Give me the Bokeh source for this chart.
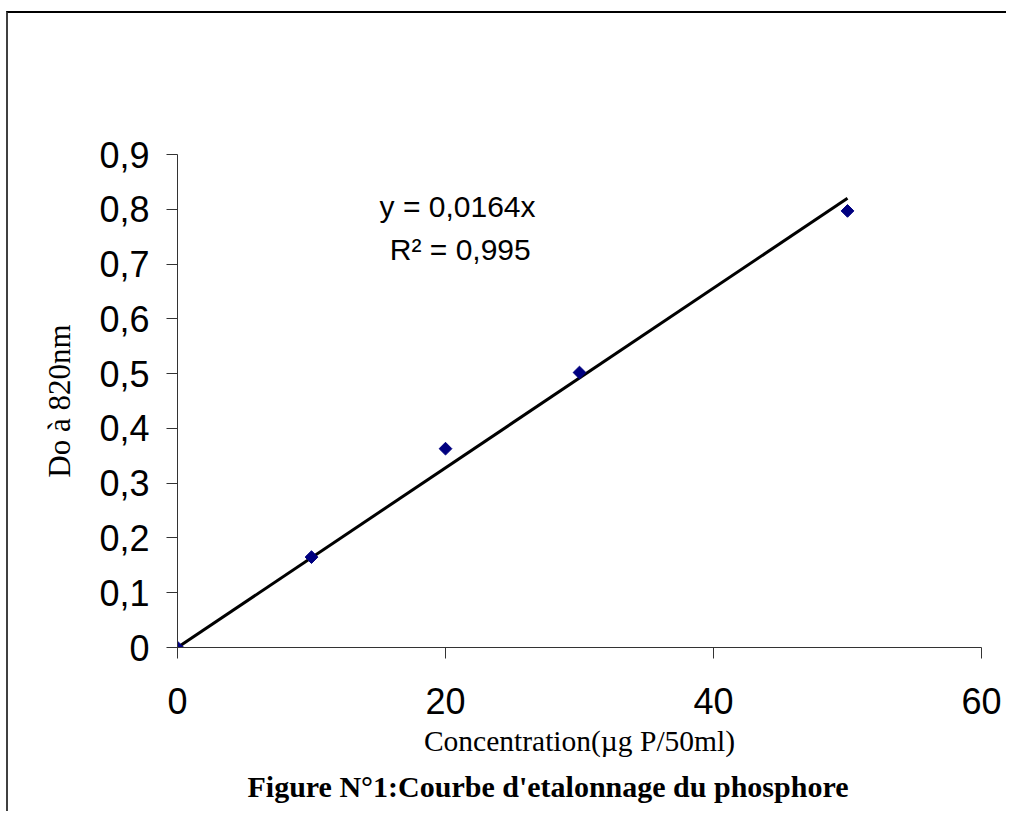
from bokeh.plotting import figure
from bokeh.models import (FixedTicker, CustomJSTickFormatter, Label, Title,
                          ColumnDataSource, Range1d)
from bokeh.embed import file_html
from bokeh.resources import INLINE
import math

# ---- data ----
concentration = [0, 10, 20, 30, 50]
absorbance = [0, 0.165, 0.363, 0.502, 0.797]
slope = 0.0164
r_squared = "0,995"
x_ticks = [0, 20, 40, 60]
y_ticks = [0, 0.1, 0.2, 0.3, 0.4, 0.5, 0.6, 0.7, 0.8, 0.9]
fit_x = [0, 50]
fit_y = [slope * v for v in fit_x]

x_title = "Concentration(µg P/50ml)"
y_title = "Do à 820nm"
fig_title = "Figure N°1:Courbe d'etalonnage du phosphore"
eq_text = "y = 0,0164x"
r2_text = "R² = " + r_squared

p = figure(frame_width=804, frame_height=493,
           min_border_left=169, min_border_right=25,
           min_border_top=141, min_border_bottom=164,
           x_range=Range1d(x_ticks[0], x_ticks[-1]),
           y_range=Range1d(y_ticks[0], y_ticks[-1]),
           output_backend="svg", toolbar_location=None,
           background_fill_color="white", border_fill_color="white",
           styles={"border-left": "2px solid #404040",
                   "border-top": "2px solid #000000",
                   "margin-top": "11px", "margin-left": "6px"})
p.outline_line_color = None
p.grid.visible = False

# axes
for ax in (p.xaxis[0], p.yaxis[0]):
    ax.axis_line_color = "#333333"
    ax.axis_line_width = 1
    ax.major_tick_line_color = "#333333"
    ax.major_tick_in = 0
    ax.major_tick_out = 11
    ax.minor_tick_line_color = None
    ax.major_label_text_font = "Liberation Sans"
    ax.major_label_text_font_size = "36px"
    ax.major_label_text_color = "black"
    ax.axis_label_text_font = "Liberation Serif"
    ax.axis_label_text_font_style = "normal"
    ax.axis_label_text_color = "black"

p.xaxis.axis_label_text_font_size = "29.5px"
p.yaxis.axis_label_text_font_size = "31px"
p.xaxis.ticker = FixedTicker(ticks=x_ticks)
p.yaxis.ticker = FixedTicker(ticks=y_ticks)
p.yaxis.formatter = CustomJSTickFormatter(
    code="return tick == 0 ? '0' : tick.toFixed(1).replace('.', ',');")
p.xaxis.major_label_standoff = 29
p.yaxis.major_label_standoff = 17
p.xaxis.axis_label = x_title
p.yaxis.axis_label = y_title
p.xaxis.axis_label_standoff = 8
p.yaxis.axis_label_standoff = 19

# trend line
p.line(fit_x, fit_y, line_color="black", line_width=3)

# points
src = ColumnDataSource(dict(x=concentration, y=absorbance))
p.scatter("x", "y", source=src, marker="square", angle=math.pi / 4,
          size=9, fill_color="#000080", line_color="#000080")

# equation labels
p.add_layout(Label(x=20.9, y=0.805, text=eq_text, text_align="center",
                   text_baseline="middle", text_font="Liberation Sans",
                   text_font_size="30px", text_color="black"))
p.add_layout(Label(x=21.1, y=0.727, text=r2_text, text_align="center",
                   text_baseline="middle", text_font="Liberation Sans",
                   text_font_size="30px", text_color="black"))

# figure caption below
cap = Title(text=fig_title, align="left", offset=70,
            text_font="Liberation Serif", text_font_style="bold",
            text_font_size="30px", text_color="black", standoff=16)
p.add_layout(cap, "below")

open("out.html", "w").write(file_html(p, INLINE))
